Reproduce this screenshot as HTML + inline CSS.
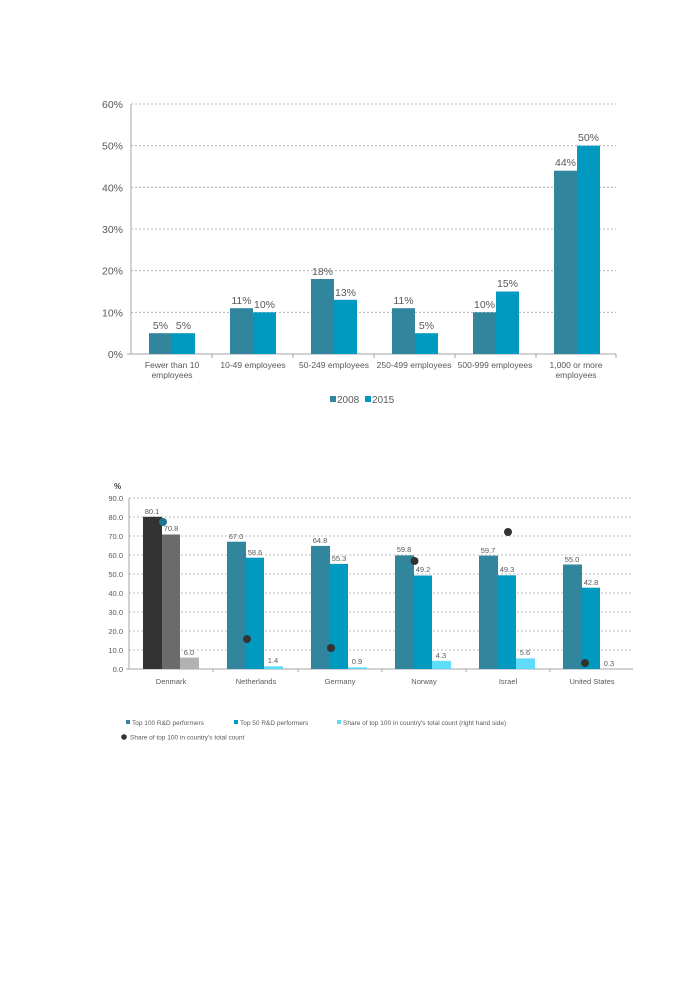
<!DOCTYPE html>
<html><head><meta charset="utf-8"><style>
html,body{margin:0;padding:0;background:#fff;}
svg{display:block;font-family:"Liberation Sans",Arial,sans-serif;}
</style></head><body>
<svg width="693" height="985" viewBox="0 0 693 985" xmlns="http://www.w3.org/2000/svg">
<rect width="693" height="985" fill="#fff"/>
<!-- Chart 1 -->
<g stroke="#a6a6a6" stroke-width="0.8" stroke-dasharray="2,2">
<line x1="131" y1="104" x2="616" y2="104"/>
<line x1="131" y1="145.7" x2="616" y2="145.7"/>
<line x1="131" y1="187.3" x2="616" y2="187.3"/>
<line x1="131" y1="229" x2="616" y2="229"/>
<line x1="131" y1="270.7" x2="616" y2="270.7"/>
<line x1="131" y1="312.3" x2="616" y2="312.3"/>
</g>
<g stroke="#a6a6a6" stroke-width="1">
<line x1="131" y1="104" x2="131" y2="354"/>
<line x1="127" y1="354" x2="616" y2="354"/>
<line x1="212" y1="354" x2="212" y2="358"/><line x1="293" y1="354" x2="293" y2="358"/><line x1="374" y1="354" x2="374" y2="358"/><line x1="455" y1="354" x2="455" y2="358"/><line x1="536" y1="354" x2="536" y2="358"/><line x1="616" y1="354" x2="616" y2="358"/>
</g>
<g font-size="10.5" fill="#595959" text-anchor="end">
<text x="123" y="108">60%</text><text x="123" y="149.7">50%</text><text x="123" y="191.3">40%</text><text x="123" y="233">30%</text><text x="123" y="274.7">20%</text><text x="123" y="316.3">10%</text><text x="123" y="358">0%</text>
</g>
<g>
<rect x="149" y="333.2" width="23" height="20.8" fill="#31859c"/><rect x="172" y="333.2" width="23" height="20.8" fill="#009ac1"/>
<rect x="230" y="308.2" width="23" height="45.8" fill="#31859c"/><rect x="253" y="312.3" width="23" height="41.7" fill="#009ac1"/>
<rect x="311" y="279" width="23" height="75" fill="#31859c"/><rect x="334" y="299.8" width="23" height="54.2" fill="#009ac1"/>
<rect x="392" y="308.2" width="23" height="45.8" fill="#31859c"/><rect x="415" y="333.2" width="23" height="20.8" fill="#009ac1"/>
<rect x="473" y="312.3" width="23" height="41.7" fill="#31859c"/><rect x="496" y="291.5" width="23" height="62.5" fill="#009ac1"/>
<rect x="554" y="170.7" width="23" height="183.3" fill="#31859c"/><rect x="577" y="145.7" width="23" height="208.3" fill="#009ac1"/>
</g>
<g font-size="10.5" fill="#595959" text-anchor="middle">
<text x="160.5" y="329">5%</text><text x="183.5" y="329">5%</text>
<text x="241.5" y="304">11%</text><text x="264.5" y="308">10%</text>
<text x="322.5" y="275">18%</text><text x="345.5" y="296">13%</text>
<text x="403.5" y="304">11%</text><text x="426.5" y="329">5%</text>
<text x="484.5" y="308">10%</text><text x="507.5" y="287">15%</text>
<text x="565.5" y="166">44%</text><text x="588.5" y="141">50%</text>
</g>
<g font-size="8.5" fill="#595959" text-anchor="middle">
<text x="172" y="368">Fewer than 10</text><text x="172" y="378">employees</text>
<text x="253" y="368">10-49 employees</text>
<text x="334" y="368">50-249 employees</text>
<text x="414" y="368">250-499 employees</text>
<text x="495" y="368">500-999 employees</text>
<text x="576" y="368">1,000 or more</text><text x="576" y="378">employees</text>
</g>
<rect x="330" y="396" width="6" height="6" fill="#31859c"/><text x="337" y="403" font-size="10" fill="#595959">2008</text>
<rect x="365" y="396" width="6" height="6" fill="#009ac1"/><text x="372" y="403" font-size="10" fill="#595959">2015</text>

<!-- Chart 2 -->
<text x="114" y="489" font-size="8" font-weight="bold" fill="#404040">%</text>
<g stroke="#a6a6a6" stroke-width="0.8" stroke-dasharray="2,2">
<line x1="129" y1="498" x2="633" y2="498"/><line x1="129" y1="517" x2="633" y2="517"/><line x1="129" y1="536" x2="633" y2="536"/><line x1="129" y1="555" x2="633" y2="555"/><line x1="129" y1="574" x2="633" y2="574"/><line x1="129" y1="593" x2="633" y2="593"/><line x1="129" y1="612" x2="633" y2="612"/><line x1="129" y1="631" x2="633" y2="631"/><line x1="129" y1="650" x2="633" y2="650"/>
</g>
<g stroke="#a6a6a6" stroke-width="1">
<line x1="129" y1="498" x2="129" y2="669"/>
<line x1="126" y1="669" x2="633" y2="669"/>
<line x1="213" y1="669" x2="213" y2="672"/><line x1="298" y1="669" x2="298" y2="672"/><line x1="382" y1="669" x2="382" y2="672"/><line x1="466" y1="669" x2="466" y2="672"/><line x1="550" y1="669" x2="550" y2="672"/>
</g>
<g font-size="7.5" fill="#595959" text-anchor="end">
<text x="123" y="501">90.0</text><text x="123" y="520">80.0</text><text x="123" y="539">70.0</text><text x="123" y="558">60.0</text><text x="123" y="577">50.0</text><text x="123" y="596">40.0</text><text x="123" y="615">30.0</text><text x="123" y="634">20.0</text><text x="123" y="653">10.0</text><text x="123" y="672">0.0</text>
</g>
<g>
<rect x="143" y="516.8" width="19" height="152.2" fill="#333333"/><rect x="162" y="534.5" width="18" height="134.5" fill="#6b6b6b"/><rect x="180" y="657.6" width="19" height="11.4" fill="#b2b2b2"/>
<rect x="227" y="541.7" width="19" height="127.3" fill="#31859c"/><rect x="246" y="557.7" width="18" height="111.3" fill="#009ac1"/><rect x="264" y="666.3" width="19" height="2.7" fill="#5fdcf7"/>
<rect x="311" y="545.9" width="19" height="123.1" fill="#31859c"/><rect x="330" y="563.9" width="18" height="105.1" fill="#009ac1"/><rect x="348" y="667.3" width="19" height="1.7" fill="#5fdcf7"/>
<rect x="395" y="555.4" width="19" height="113.6" fill="#31859c"/><rect x="414" y="575.5" width="18" height="93.5" fill="#009ac1"/><rect x="432" y="660.8" width="19" height="8.2" fill="#5fdcf7"/>
<rect x="479" y="555.6" width="19" height="113.4" fill="#31859c"/><rect x="498" y="575.3" width="18" height="93.7" fill="#009ac1"/><rect x="516" y="658.4" width="19" height="10.6" fill="#5fdcf7"/>
<rect x="563" y="564.5" width="19" height="104.5" fill="#31859c"/><rect x="582" y="587.7" width="18" height="81.3" fill="#009ac1"/>
</g>
<g>
<circle cx="163" cy="522" r="4" fill="#1b7590"/>
<circle cx="247" cy="639" r="4" fill="#333"/>
<circle cx="331" cy="648" r="4" fill="#333"/>
<circle cx="414.5" cy="561" r="4" fill="#333"/>
<circle cx="508" cy="532" r="4" fill="#333"/>
<circle cx="585" cy="663" r="4" fill="#333"/>
</g>
<g font-size="7.5" fill="#595959" text-anchor="middle">
<text x="152" y="514">80.1</text><text x="171" y="531">70.8</text><text x="189" y="655">6.0</text>
<text x="236" y="539">67.0</text><text x="255" y="555">58.6</text><text x="273" y="663">1.4</text>
<text x="320" y="543">64.8</text><text x="339" y="561">55.3</text><text x="357" y="664">0.9</text>
<text x="404" y="552">59.8</text><text x="423" y="572">49.2</text><text x="441" y="658">4.3</text>
<text x="488" y="553">59.7</text><text x="507" y="572">49.3</text><text x="525" y="655">5.6</text>
<text x="572" y="562">55.0</text><text x="591" y="585">42.8</text><text x="609" y="666">0.3</text>
</g>
<g font-size="7.5" fill="#595959" text-anchor="middle">
<text x="171" y="684">Denmark</text><text x="256" y="684">Netherlands</text><text x="340" y="684">Germany</text><text x="424" y="684">Norway</text><text x="508" y="684">Israel</text><text x="592" y="684">United States</text>
</g>
<g font-size="6.5" fill="#595959">
<rect x="126" y="720" width="4" height="4" fill="#31859c"/><text x="132" y="725">Top 100 R&amp;D performers</text>
<rect x="234" y="720" width="4" height="4" fill="#009ac1"/><text x="240" y="725">Top 50 R&amp;D performers</text>
<rect x="337" y="720" width="4" height="4" fill="#5fdcf7"/><text x="343" y="725">Share of top 100 in country's total count (right hand side)</text>
<circle cx="124" cy="737" r="2.8" fill="#333"/><text x="130" y="739.5">Share of top 100 in country's total count</text>
</g>
</svg>
</body></html>
